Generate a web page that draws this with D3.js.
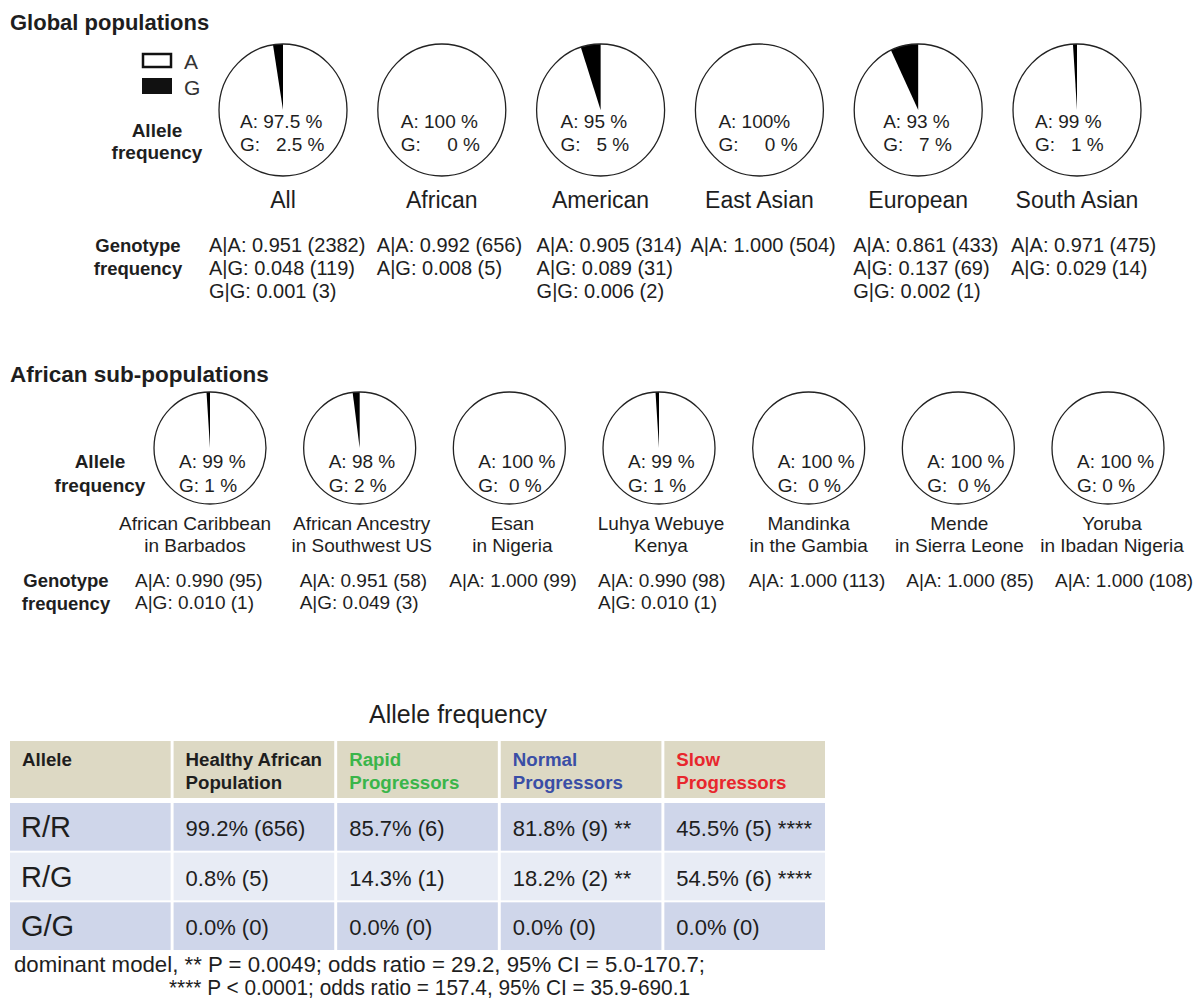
<!DOCTYPE html>
<html>
<head>
<meta charset="utf-8">
<script src="https://cdn.jsdelivr.net/npm/d3@7"></script>
<style>
  html, body { margin: 0; padding: 0; background: #fff; }
  svg text { font-family: "Liberation Sans", Arial, sans-serif; fill: #1e1e1e; white-space: pre; }
</style>
</head>
<body>
<svg id="chart" width="1194" height="1001"></svg>
<script>
// ---------- DATA ----------
const topPops = ["All", "African", "American", "East Asian", "European", "South Asian"];
const topA = [97.5, 100, 95, 100, 93, 99];
const topG = [2.5, 0, 5, 0, 7, 1];
const topGenotypes = [
  ["A|A: 0.951 (2382)", "A|G: 0.048 (119)", "G|G: 0.001 (3)"],
  ["A|A: 0.992 (656)", "A|G: 0.008 (5)"],
  ["A|A: 0.905 (314)", "A|G: 0.089 (31)", "G|G: 0.006 (2)"],
  ["A|A: 1.000 (504)"],
  ["A|A: 0.861 (433)", "A|G: 0.137 (69)", "G|G: 0.002 (1)"],
  ["A|A: 0.971 (475)", "A|G: 0.029 (14)"]
];

const subPops = [
  ["African Caribbean", "in Barbados"],
  ["African Ancestry", "in Southwest US"],
  ["Esan", "in Nigeria"],
  ["Luhya Webuye", "Kenya"],
  ["Mandinka", "in the Gambia"],
  ["Mende", "in Sierra Leone"],
  ["Yoruba", "in Ibadan Nigeria"]
];
const subA = [99, 98, 100, 99, 100, 100, 100];
const subG = [1, 2, 0, 1, 0, 0, 0];
const subGenotypes = [
  ["A|A: 0.990 (95)", "A|G: 0.010 (1)"],
  ["A|A: 0.951 (58)", "A|G: 0.049 (3)"],
  ["A|A: 1.000 (99)"],
  ["A|A: 0.990 (98)", "A|G: 0.010 (1)"],
  ["A|A: 1.000 (113)"],
  ["A|A: 1.000 (85)"],
  ["A|A: 1.000 (108)"]
];

const tableTitle = "Allele frequency";
const tableHeaders = [
  ["Allele"],
  ["Healthy African", "Population"],
  ["Rapid", "Progressors"],
  ["Normal", "Progressors"],
  ["Slow", "Progressors"]
];
const tableRows = ["R/R", "R/G", "G/G"];
const tableValues = [
  ["99.2% (656)", "85.7% (6)", "81.8% (9) **", "45.5% (5) ****"],
  ["0.8% (5)", "14.3% (1)", "18.2% (2) **", "54.5% (6) ****"],
  ["0.0% (0)", "0.0% (0)", "0.0% (0)", "0.0% (0)"]
];
const footnotes = [
  "dominant model, ** P = 0.0049; odds ratio = 29.2, 95% CI = 5.0-170.7;",
  "**** P < 0.0001; odds ratio = 157.4, 95% CI = 35.9-690.1"
];

// ---------- LAYOUT / STYLE ----------
const headerColors = ["#1e1e1e", "#1e1e1e", "#3ab54a", "#3a4ea6", "#e8262d"];
const rowColors = ["#cfd6ea", "#e8ecf5", "#cfd6ea"];
const headerBg = "#ddd9c4";
const topTextDx = [-43, -41, -40, -41, -35, -42];
const topGenoDx = [-74, -65, -64, -69, -65, -66];
const subLabelDx = [-15, 2, 3, 2, 0, 1, 4];
const subGenoDx = [-75, -60, -60, -61, -60, -52, -53];

const svg = d3.select("#chart");

// ===== Global populations =====
svg.append("text").attr("x", 10).attr("y", 30)
  .style("font-size", "22px").style("font-weight", "bold").text("Global populations");

// legend
svg.append("rect").attr("x", 143).attr("y", 54).attr("width", 28).attr("height", 13)
  .attr("fill", "#fff").attr("stroke", "#111").attr("stroke-width", 2.5);
svg.append("rect").attr("x", 142).attr("y", 78).attr("width", 30).attr("height", 16)
  .attr("fill", "#111");
svg.append("text").attr("x", 184).attr("y", 69).style("font-size", "21px").style("fill", "#333").text("A");
svg.append("text").attr("x", 184).attr("y", 95).style("font-size", "21px").style("fill", "#333").text("G");

function boldLabel(lines, cx, ys, size) {
  lines.forEach((t, i) => {
    svg.append("text").attr("x", cx).attr("y", ys[i]).attr("text-anchor", "middle")
      .style("font-size", size + "px").style("font-weight", "bold").text(t);
  });
}
boldLabel(["Allele", "frequency"], 157, [137, 159], 19);
boldLabel(["Genotype", "frequency"], 138, [252, 275], 18.5);

const xTop = d3.scalePoint().domain(topPops).range([283, 1077]);
const pieGen = d3.pie().sort(null).startAngle(0).endAngle(2 * Math.PI);

function drawPie(cx, cy, rx, ry, a, g) {
  const grp = svg.append("g").attr("transform", `translate(${cx},${cy}) scale(1,${ry / rx})`);
  const arc = d3.arc().innerRadius(0).outerRadius(rx);
  const slices = pieGen([a, g]);
  grp.append("circle").attr("r", rx).attr("fill", "#fff");
  grp.append("path").attr("d", arc(slices[1])).attr("fill", "#000");
  grp.append("circle").attr("r", rx).attr("fill", "none")
    .attr("stroke", "#222").attr("stroke-width", 1.3).attr("vector-effect", "non-scaling-stroke");
}

function gPad(a, g) {
  const diff = String(a).length - String(g).length;
  return " ".repeat(1 + Math.max(0, diff) * 2);
}

topPops.forEach((p, i) => {
  const cx = xTop(p);
  drawPie(cx, 110, 64, 66, topA[i], topG[i]);
  const tx = cx + topTextDx[i];
  svg.append("text").attr("x", tx).attr("y", 128).style("font-size", "19px")
    .text(p === "East Asian" ? `A: ${topA[i]}%` : `A: ${topA[i]} %`);
  svg.append("text").attr("x", tx).attr("y", 151).style("font-size", "19px")
    .text(`G:${gPad(topA[i], topG[i])}${topG[i]} %`);
  svg.append("text").attr("x", cx).attr("y", 208).attr("text-anchor", "middle")
    .style("font-size", "23px").text(p);
  topGenotypes[i].forEach((t, j) => {
    svg.append("text").attr("x", cx + topGenoDx[i]).attr("y", 252 + j * 23)
      .style("font-size", "20px").text(t);
  });
});

// ===== African sub-populations =====
svg.append("text").attr("x", 10).attr("y", 382)
  .style("font-size", "22.5px").style("font-weight", "bold").text("African sub-populations");
boldLabel(["Allele", "frequency"], 100, [468, 492], 19);
boldLabel(["Genotype", "frequency"], 66, [587, 610], 18.5);

const xSub = d3.scalePoint().domain(d3.range(subPops.length)).range([210, 1108]);
subPops.forEach((p, i) => {
  const cx = xSub(i);
  drawPie(cx, 448, 56, 56, subA[i], subG[i]);
  const tx = cx - 31;
  svg.append("text").attr("x", tx).attr("y", 468).style("font-size", "19px").text(`A: ${subA[i]} %`);
  svg.append("text").attr("x", tx).attr("y", 492).style("font-size", "19px")
    .text(`G:${subA[i] === 100 && i < 6 ? "  " : " "}${subG[i]} %`);
  p.forEach((t, j) => {
    svg.append("text").attr("x", cx + subLabelDx[i]).attr("y", 530 + j * 22).attr("text-anchor", "middle")
      .style("font-size", "19px").text(t);
  });
  subGenotypes[i].forEach((t, j) => {
    svg.append("text").attr("x", cx + subGenoDx[i]).attr("y", 587 + j * 22)
      .style("font-size", "19px").text(t);
  });
});

// ===== Table =====
svg.append("text").attr("x", 458).attr("y", 723).attr("text-anchor", "middle")
  .style("font-size", "25px").text(tableTitle);

const xCol = d3.scaleBand().domain(d3.range(tableHeaders.length)).range([10, 825]).paddingInner(0.018);
const yRow = d3.scaleBand().domain(tableRows).range([803, 950]).paddingInner(0.04);

tableHeaders.forEach((h, i) => {
  svg.append("rect").attr("x", xCol(i)).attr("y", 741).attr("width", xCol.bandwidth()).attr("height", 57)
    .attr("fill", headerBg);
  h.forEach((t, j) => {
    svg.append("text").attr("x", xCol(i) + 12).attr("y", 766 + j * 23)
      .style("font-size", "18.7px").style("font-weight", "bold").style("fill", headerColors[i]).text(t);
  });
});

tableRows.forEach((r, ri) => {
  const y0 = yRow(r);
  const bh = yRow.bandwidth();
  for (let c = 0; c < tableHeaders.length; c++) {
    svg.append("rect").attr("x", xCol(c)).attr("y", y0).attr("width", xCol.bandwidth()).attr("height", bh)
      .attr("fill", rowColors[ri]);
  }
  svg.append("text").attr("x", xCol(0) + 11).attr("y", y0 + bh / 2 + 10)
    .style("font-size", "29px").text(r);
  tableValues[ri].forEach((v, c) => {
    svg.append("text").attr("x", xCol(c + 1) + 12).attr("y", y0 + bh / 2 + 9)
      .style("font-size", "22px").text(v);
  });
});

svg.append("text").attr("x", 14).attr("y", 972).style("font-size", "21.5px")
  .attr("textLength", 691).attr("lengthAdjust", "spacingAndGlyphs").text(footnotes[0]);
svg.append("text").attr("x", 169).attr("y", 995).style("font-size", "21.5px")
  .attr("textLength", 521).attr("lengthAdjust", "spacingAndGlyphs").text(footnotes[1]);
</script>
</body>
</html>
